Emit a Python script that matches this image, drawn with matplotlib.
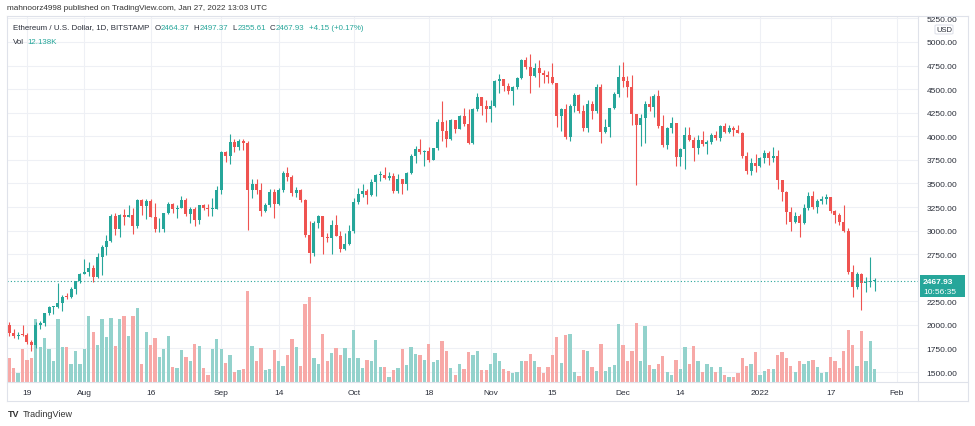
import matplotlib
matplotlib.use("Agg")
import matplotlib.pyplot as plt
import matplotlib.patches as patches
from matplotlib.lines import Line2D
import numpy as np

plt.rcParams['font.family'] = ['Liberation Sans', 'DejaVu Sans']

# ETH/USD daily, Bitstamp, 15 Jul 2021 .. 27 Jan 2022
first_open = 1994.0
closes = [
    1915, 1880, 1898, 1895, 1819, 1787, 1995, 2025, 2124, 2187,
    2190, 2230, 2300, 2297, 2380, 2462, 2536, 2558, 2607, 2508,
    2725, 2827, 2890, 3157, 3012, 3163, 3141, 3164, 3048, 3322,
    3266, 3310, 3147, 3012, 3019, 3185, 3286, 3225, 3242, 3325,
    3173, 3227, 3114, 3269, 3241, 3227, 3230, 3433, 3834, 3790,
    3940, 3887, 3952, 3926, 3431, 3497, 3427, 3212, 3270, 3410,
    3285, 3429, 3615, 3571, 3398, 3432, 3329, 2958, 2764, 3077,
    3155, 2931, 2925, 3062, 2947, 2807, 2853, 3001, 3307, 3391,
    3418, 3380, 3518, 3586, 3593, 3560, 3575, 3416, 3545, 3492,
    3606, 3788, 3865, 3830, 3847, 3748, 3876, 4155, 4056, 3972,
    4169, 4082, 4218, 4132, 3933, 4286, 4415, 4325, 4288, 4324,
    4585, 4604, 4536, 4482, 4520, 4621, 4812, 4735, 4637, 4725,
    4667, 4650, 4624, 4564, 4217, 4290, 3993, 4318, 4440, 4267,
    4088, 4342, 4269, 4526, 4045, 4095, 4297, 4445, 4632, 4587,
    4519, 4240, 4119, 4198, 4347, 4309, 4432, 4111, 3908, 4086,
    4136, 3783, 3861, 4018, 3961, 3877, 3960, 3922, 3940, 4018,
    3982, 4108, 4048, 4093, 4064, 4040, 3795, 3631, 3713, 3684,
    3766, 3826, 3766, 3793, 3537, 3408, 3197, 3091, 3158, 3082,
    3238, 3372, 3247, 3310, 3331, 3352, 3212, 3165, 3095, 2996,
    2560, 2405, 2539, 2440, 2455, 2464.37, 2467.93,
]
highs = [
    2030, 1960, 1925, 1995, 1910, 1840, 2030, 2045, 2130, 2200,
    2200, 2440, 2315, 2340, 2400, 2470, 2550, 2700, 2665, 2630,
    2760, 2845, 2950, 3180, 3185, 3180, 3230, 3275, 3240, 3330,
    3330, 3330, 3335, 3290, 3135, 3185, 3300, 3290, 3275, 3370,
    3350, 3250, 3250, 3275, 3285, 3280, 3350, 3470, 3840, 3845,
    4025, 3970, 3975, 3970, 3950, 3550, 3550, 3510, 3290, 3440,
    3440, 3450, 3630, 3675, 3590, 3465, 3440, 3330, 3100, 3100,
    3170, 3155, 2970, 3110, 3165, 3000, 2975, 3060, 3345, 3455,
    3490, 3440, 3545, 3600, 3630, 3670, 3620, 3610, 3605, 3550,
    3620, 3815, 3900, 3970, 3860, 3890, 3880, 4180, 4375, 4170,
    4180, 4175, 4230, 4295, 4290, 4300, 4460, 4420, 4390, 4380,
    4600, 4660, 4605, 4570, 4535, 4625, 4825, 4838, 4870, 4780,
    4810, 4700, 4690, 4775, 4565, 4295, 4345, 4340, 4460, 4450,
    4330, 4385, 4370, 4550, 4550, 4180, 4300, 4465, 4760, 4785,
    4640, 4645, 4230, 4240, 4370, 4430, 4445, 4490, 4225, 4100,
    4200, 4140, 3880, 4100, 4100, 3990, 4010, 4055, 3960, 4030,
    4060, 4120, 4140, 4120, 4110, 4120, 4050, 3830, 3765, 3810,
    3780, 3850, 3840, 3890, 3860, 3540, 3415, 3245, 3200, 3175,
    3280, 3410, 3415, 3330, 3365, 3390, 3360, 3215, 3190, 3275,
    3030, 2630, 2560, 2550, 2510, 2725, 2497.37,
]
lows = [
    1880, 1860, 1855, 1880, 1800, 1718, 1760, 1955, 1990, 2100,
    2115, 2175, 2150, 2270, 2280, 2325, 2440, 2540, 2520, 2450,
    2500, 2530, 2745, 2880, 2950, 2930, 3060, 3140, 2960, 3030,
    3170, 3120, 3140, 2990, 2980, 2980, 3175, 3185, 3130, 3235,
    3150, 3080, 3050, 3075, 3220, 3150, 3160, 3225, 3385, 3730,
    3710, 3830, 3850, 3860, 3010, 3350, 3390, 3150, 3195, 3245,
    3130, 3270, 3410, 3525, 3365, 3360, 3300, 2935, 2660, 2735,
    3030, 2750, 2880, 2750, 2940, 2770, 2790, 2850, 2970, 3280,
    3360, 3280, 3370, 3370, 3530, 3550, 3540, 3400, 3400, 3390,
    3435, 3600, 3720, 3815, 3690, 3730, 3745, 3850, 3945, 3890,
    3960, 4040, 4075, 4110, 3920, 3920, 4270, 4230, 4150, 4150,
    4315, 4460, 4480, 4450, 4330, 4505, 4610, 4710, 4455, 4630,
    4520, 4560, 4560, 4550, 4100, 4060, 3970, 3950, 4260, 4250,
    4060, 4050, 4180, 4245, 3930, 4035, 3990, 4285, 4420, 4525,
    4420, 4120, 3480, 3900, 3930, 4270, 4200, 4090, 3890, 3865,
    4040, 3680, 3690, 3650, 3955, 3740, 3815, 3900, 3810, 3920,
    3960, 3950, 4030, 4030, 4000, 4030, 3765, 3605, 3590, 3620,
    3670, 3715, 3700, 3730, 3445, 3310, 3075, 2995, 3085, 2930,
    3070, 3220, 3230, 3190, 3280, 3280, 3185, 3080, 3060, 2980,
    2540, 2300, 2380, 2160, 2350, 2400, 2355.61,
]
# volume, thousands of ETH
volumes = [
    22, 13, 8, 31, 21, 22, 59, 33, 41, 31,
    20, 59, 33, 33, 17, 29, 17, 31, 62, 47,
    35, 59, 42, 60, 34, 59, 62, 43, 62, 69,
    17, 47, 35, 41, 23, 31, 43, 14, 13, 30,
    23, 20, 36, 34, 13, 7, 31, 40, 31, 18,
    25, 9, 11, 12, 85, 34, 20, 32, 11, 12,
    30, 20, 15, 25, 40, 33, 15, 73, 80, 22,
    17, 45, 20, 27, 32, 25, 32, 22, 49, 22,
    13, 21, 20, 39, 14, 14, 5, 11, 13, 31,
    16, 33, 26, 25, 21, 36, 19, 21, 38, 29,
    13, 7, 17, 12, 28, 25, 29, 11, 11, 17,
    27, 20, 12, 10, 8, 9, 20, 20, 26, 20,
    14, 8, 14, 25, 42, 18, 44, 45, 9, 6,
    30, 29, 14, 10, 36, 10, 14, 16, 54, 35,
    20, 29, 55, 20, 52, 16, 12, 17, 24, 9,
    7, 21, 12, 33, 17, 34, 20, 9, 17, 14,
    9, 14, 7, 5, 5, 8, 22, 15, 17, 28,
    7, 10, 12, 12, 25, 28, 22, 15, 9, 20,
    17, 20, 21, 14, 8, 9, 23, 20, 13, 29,
    49, 35, 15, 48, 20, 38, 12,
]

tick_days = [4, 17, 32, 48, 61, 78, 95, 109, 123, 139, 152, 170, 186, 201]
tick_labels = ['19', 'Aug', '16', 'Sep', '14', 'Oct', '18', 'Nov', '15',
               'Dec', '14', '2022', '17', 'Feb']
price_ticks = list(range(1500, 5251, 250))
last_price = 2467.93

UP = '#26a69a'
DOWN = '#ef5350'
TXT = '#2a2e39'
GRID = '#eef0f5'
FRAME = '#dfe2ea'

W, H = 975, 427
fig = plt.figure(figsize=(W / 100, H / 100), dpi=100)
fig.patch.set_facecolor('white')


def fx(px):
    return px / W


def fy(py):
    return 1 - py / H


# pane: x 7..918, y 17..383 (pixels)
rect = [fx(7), fy(383), fx(918) - fx(7), fy(17) - fy(383)]
xlim = (-0.52, 205.8)
ylim = (1394.5, 5275.7)

ax_bg = fig.add_axes(rect)
ax_vol = fig.add_axes(rect)
ax = fig.add_axes(rect)
for a in (ax_bg, ax_vol, ax):
    a.set_xlim(*xlim)
    for s in a.spines.values():
        s.set_visible(False)
ax_vol.patch.set_alpha(0)
ax.patch.set_alpha(0)

# grid (bottom layer)
ax_bg.set_ylim(*ylim)
for p in price_ticks:
    ax_bg.axhline(p, color=GRID, lw=0.8)
for d in tick_days:
    ax_bg.axvline(d, color=GRID, lw=0.8)
ax_bg.set_xticks([])
ax_bg.set_yticks([])

closes = np.array(closes, dtype=float)
highs = np.array(highs, dtype=float)
lows = np.array(lows, dtype=float)
opens = np.r_[first_open, closes[:-1]]
x = np.arange(len(closes))
up = closes >= opens
col = np.where(up, UP, DOWN)

# volume overlay
ax_vol.bar(x, volumes, width=0.75, color=np.where(up, '#93d2cc', '#f7a9a7'), linewidth=0)
ax_vol.set_ylim(0, max(volumes) * 4.03)
ax_vol.set_xticks([])
ax_vol.set_yticks([])

# candles
ax.set_ylim(*ylim)
ax.vlines(x, lows, highs, colors=col, lw=0.8)
body_lo = np.minimum(opens, closes)
body_h = np.maximum(np.abs(closes - opens), 9)
ax.bar(x, body_h, bottom=body_lo, width=0.68, color=col, linewidth=0)
ax.axhline(last_price, color=UP, lw=0.8, ls=(0, (1, 2)))

ax.yaxis.tick_right()
ax.set_yticks(price_ticks)
ax.set_yticklabels(['' if p == 2500 else f'{p:.2f}' for p in price_ticks])
ax.tick_params(axis='y', length=0, pad=6, labelsize=6, labelcolor=TXT)
ax.set_xticks(tick_days)
ax.set_xticklabels(tick_labels)
ax.tick_params(axis='x', length=0, pad=5, labelsize=6, labelcolor=TXT)

# frame lines
for (x0, y0, x1, y1) in [(7, 17, 968, 17), (7, 17, 7, 402), (968, 17, 968, 402),
                         (918, 17, 918, 402), (7, 383, 968, 383), (7, 402, 968, 402)]:
    fig.add_artist(Line2D([fx(x0), fx(x1)], [fy(y0), fy(y1)], transform=fig.transFigure,
                          color=FRAME, lw=0.8))

# header
fig.text(fx(7), fy(9), 'mahnoorz4998 published on TradingView.com, Jan 27, 2022 13:03 UTC',
         fontsize=5.9, color='#333333', va='center')

renderer = fig.canvas.get_renderer()


def text_run(x0, y0, parts, size):
    """Place coloured text pieces one after another on a line."""
    xpos = x0
    for s, c, gap in parts:
        t = fig.text(fx(xpos), fy(y0), s, fontsize=size, color=c, va='center')
        xpos = t.get_window_extent(renderer).x1 + gap


text_run(13, 28, [
    ('Ethereum / U.S. Dollar, 1D, BITSTAMP', TXT, 5),
    ('O', TXT, 0.5), ('2464.37', UP, 4),
    ('H', TXT, 0.5), ('2497.37', UP, 4),
    ('L', TXT, 0.5), ('2355.61', UP, 4),
    ('C', TXT, 0.5), ('2467.93', UP, 4),
    ('+4.15 (+0.17%)', UP, 0),
], 5.7)
text_run(13, 42, [('Vol', TXT, 3), ('12.138K', UP, 0)], 5.7)

# USD badge
fig.add_artist(patches.FancyBboxPatch((fx(935), fy(35)), fx(18), 9 / H,
                                      boxstyle='round,pad=0,rounding_size=0.002',
                                      transform=fig.transFigure, facecolor='white',
                                      edgecolor=FRAME, lw=0.8))
fig.text(fx(944), fy(30.5), 'USD', fontsize=5.5, color=TXT, ha='center', va='center')

# last price label
fig.add_artist(patches.Rectangle((fx(920), fy(298)), fx(45), 22 / H,
                                 transform=fig.transFigure, facecolor=UP, edgecolor='none'))
fig.text(fx(923), fy(282.5), '2467.93', fontsize=6, color='white', weight='bold', va='center')
fig.text(fx(923), fy(292.5), '10:56:35', fontsize=6, color='white', va='center')

# footer logo
fig.text(fx(8), fy(415), 'TV', fontsize=6.5, color='#333333', weight='bold', va='center')
fig.text(fx(23), fy(415), 'TradingView', fontsize=6.5, color='#333333', va='center')

fig.savefig('out.png', dpi=100, facecolor='white')
